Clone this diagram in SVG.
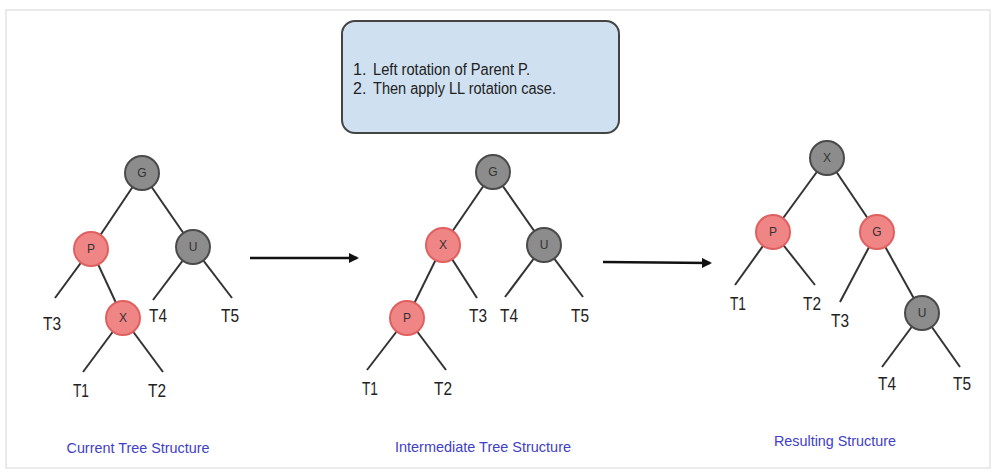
<svg xmlns="http://www.w3.org/2000/svg" width="995" height="474" viewBox="0 0 995 474">
<defs>
<style>
.edge{stroke:#333;stroke-width:2;fill:none}
.gray{fill:#8c8c8c;stroke:#4a4a4a;stroke-width:2}
.red{fill:#f08585;stroke:#e06060;stroke-width:2}
.nl{font-family:"Liberation Sans",Arial,sans-serif;font-size:12px;fill:#333;text-anchor:middle}
.lf{font-family:"Liberation Sans",Arial,sans-serif;font-size:19px;fill:#222;text-anchor:middle}
.cap{font-family:"Liberation Sans",Arial,sans-serif;font-size:15px;fill:#4040c8;text-anchor:middle}
.box{font-family:"Liberation Sans",Arial,sans-serif;font-size:16px;fill:#222}
.arr{stroke:#111;stroke-width:2.5;fill:none}
</style>
<marker id="ah" markerWidth="10" markerHeight="10" refX="8" refY="5" orient="auto" markerUnits="userSpaceOnUse">
<path d="M0,0 L10,5 L0,10 z" fill="#111"/>
</marker>
</defs>
<rect x="0" y="0" width="995" height="474" fill="#fff"/>
<rect x="6" y="10" width="984" height="458" fill="none" stroke="#e4e4e4" stroke-width="1.5"/>

<g id="note">
<rect x="342" y="21" width="277" height="112" rx="13" fill="#cfe0f1" stroke="#444" stroke-width="2"/>
<text class="box" x="353" y="75">1.</text>
<text class="box" x="373" y="75" textLength="157" lengthAdjust="spacingAndGlyphs">Left rotation of Parent P.</text>
<text class="box" x="353" y="94">2.</text>
<text class="box" x="373" y="94" textLength="183" lengthAdjust="spacingAndGlyphs">Then apply LL rotation case.</text>
</g>

<g id="connectors">
<line class="edge" x1="142" y1="173" x2="91" y2="249"/>
<line class="edge" x1="142" y1="173" x2="193" y2="247"/>
<line class="edge" x1="91" y1="249" x2="55" y2="298"/>
<line class="edge" x1="91" y1="249" x2="123" y2="318"/>
<line class="edge" x1="193" y1="247" x2="153" y2="300"/>
<line class="edge" x1="193" y1="247" x2="232" y2="298"/>
<line class="edge" x1="123" y1="318" x2="83" y2="372"/>
<line class="edge" x1="123" y1="318" x2="163" y2="372"/>

<line class="edge" x1="493" y1="172" x2="443" y2="245"/>
<line class="edge" x1="493" y1="172" x2="544" y2="245"/>
<line class="edge" x1="443" y1="245" x2="407" y2="318"/>
<line class="edge" x1="443" y1="245" x2="477" y2="298"/>
<line class="edge" x1="544" y1="245" x2="505" y2="297"/>
<line class="edge" x1="544" y1="245" x2="583" y2="297"/>
<line class="edge" x1="407" y1="318" x2="367" y2="370"/>
<line class="edge" x1="407" y1="318" x2="446" y2="370"/>

<line class="edge" x1="827" y1="158" x2="773" y2="232"/>
<line class="edge" x1="827" y1="158" x2="877" y2="232"/>
<line class="edge" x1="773" y1="232" x2="735" y2="285"/>
<line class="edge" x1="773" y1="232" x2="815" y2="285"/>
<line class="edge" x1="877" y1="232" x2="840" y2="302"/>
<line class="edge" x1="877" y1="232" x2="922" y2="313"/>
<line class="edge" x1="922" y1="313" x2="882" y2="367"/>
<line class="edge" x1="922" y1="313" x2="960" y2="367"/>

<line class="arr" x1="250" y1="258" x2="357" y2="258" marker-end="url(#ah)"/>
<line class="arr" x1="603" y1="262" x2="710" y2="263" marker-end="url(#ah)"/>
</g>

<g id="tree1-G"><circle class="gray" cx="142" cy="173" r="17"/><text class="nl" x="142" y="177">G</text></g>
<g id="tree1-P"><circle class="red" cx="91" cy="249" r="17"/><text class="nl" x="91" y="253">P</text></g>
<g id="tree1-U"><circle class="gray" cx="193" cy="247" r="17"/><text class="nl" x="193" y="251">U</text></g>
<g id="tree1-X"><circle class="red" cx="123" cy="318" r="17"/><text class="nl" x="123" y="322">X</text></g>
<g id="tree1-leaves">
<text class="lf" x="52" y="330" textLength="18" lengthAdjust="spacingAndGlyphs">T3</text>
<text class="lf" x="158" y="322" textLength="18" lengthAdjust="spacingAndGlyphs">T4</text>
<text class="lf" x="230" y="322" textLength="18" lengthAdjust="spacingAndGlyphs">T5</text>
<text class="lf" x="81" y="397" textLength="16" lengthAdjust="spacingAndGlyphs">T1</text>
<text class="lf" x="157" y="397" textLength="18" lengthAdjust="spacingAndGlyphs">T2</text>
</g>
<text class="cap" x="138" y="453" textLength="143" lengthAdjust="spacingAndGlyphs">Current Tree Structure</text>

<g id="tree2-G"><circle class="gray" cx="493" cy="172" r="17"/><text class="nl" x="493" y="176">G</text></g>
<g id="tree2-X"><circle class="red" cx="443" cy="245" r="17"/><text class="nl" x="443" y="249">X</text></g>
<g id="tree2-U"><circle class="gray" cx="544" cy="245" r="17"/><text class="nl" x="544" y="249">U</text></g>
<g id="tree2-P"><circle class="red" cx="407" cy="318" r="17"/><text class="nl" x="407" y="322">P</text></g>
<g id="tree2-leaves">
<text class="lf" x="478" y="322" textLength="18" lengthAdjust="spacingAndGlyphs">T3</text>
<text class="lf" x="509" y="322" textLength="18" lengthAdjust="spacingAndGlyphs">T4</text>
<text class="lf" x="580" y="322" textLength="18" lengthAdjust="spacingAndGlyphs">T5</text>
<text class="lf" x="370" y="395" textLength="16" lengthAdjust="spacingAndGlyphs">T1</text>
<text class="lf" x="443" y="395" textLength="18" lengthAdjust="spacingAndGlyphs">T2</text>
</g>
<text class="cap" x="483" y="452" textLength="176" lengthAdjust="spacingAndGlyphs">Intermediate Tree Structure</text>

<g id="tree3-X"><circle class="gray" cx="827" cy="158" r="17"/><text class="nl" x="827" y="162">X</text></g>
<g id="tree3-P"><circle class="red" cx="773" cy="232" r="17"/><text class="nl" x="773" y="236">P</text></g>
<g id="tree3-G"><circle class="red" cx="877" cy="232" r="17"/><text class="nl" x="877" y="236">G</text></g>
<g id="tree3-U"><circle class="gray" cx="922" cy="313" r="17"/><text class="nl" x="922" y="317">U</text></g>
<g id="tree3-leaves">
<text class="lf" x="738" y="310" textLength="16" lengthAdjust="spacingAndGlyphs">T1</text>
<text class="lf" x="812" y="310" textLength="18" lengthAdjust="spacingAndGlyphs">T2</text>
<text class="lf" x="840" y="327" textLength="18" lengthAdjust="spacingAndGlyphs">T3</text>
<text class="lf" x="887" y="390" textLength="18" lengthAdjust="spacingAndGlyphs">T4</text>
<text class="lf" x="962" y="390" textLength="18" lengthAdjust="spacingAndGlyphs">T5</text>
</g>
<text class="cap" x="835" y="446" textLength="122" lengthAdjust="spacingAndGlyphs">Resulting Structure</text>
</svg>
